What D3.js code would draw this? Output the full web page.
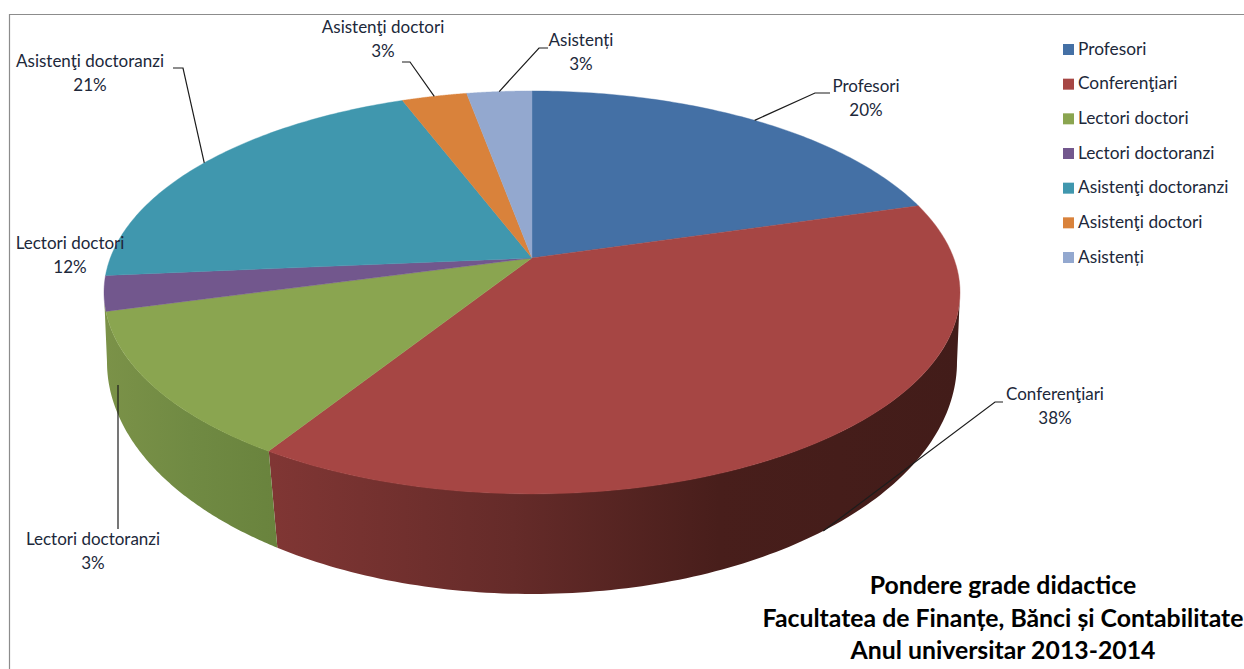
<!DOCTYPE html>
<html>
<head>
<meta charset="utf-8">
<script src="https://cdn.jsdelivr.net/npm/d3@7"></script>
<style>
  html, body { margin: 0; padding: 0; background: #fff; overflow: hidden; }
  text { font-family: Lato, "Open Sans", sans-serif; fill: #20283a; }
</style>
</head>
<body>
<div id="chart"></div>
<script>
const categories = ['Profesori', 'Conferenţiari', 'Lectori doctori', 'Lectori doctoranzi', 'Asistenţi doctoranzi', 'Asistenţi doctori', 'Asistenți'];
const shares = [20.49, 38.49, 11.82, 2.8, 20.6, 2.9, 2.9]; // read from the slice edges, labels are rounded
const colors = ['#4470A5', '#A64644', '#8AA550', '#72578D', '#4097AE', '#D9823B', '#93A8CF'];
const titleLines = ['Pondere grade didactice', 'Facultatea de Finanțe, Bănci și Contabilitate', 'Anul universitar 2013-2014'];

// label centre and elbow of the leader line, per category
const labelPos = [[866, 86], [1055, 394], [70, 243], [93, 539], [90, 61], [383, 27], [581, 40]];
const elbows = [[[830, 93], [815, 93]], [[1003, 402], [995, 402]], null, [[118, 529]], [[173, 68], [183, 68]], [[402, 62], [410, 62]], [[548, 48], [539, 48]]];

const width = 1244, height = 669;
const svg = d3.select('#chart').append('svg').attr('width', width).attr('height', height).style('display', 'block');

// frame, only top and left are inside the crop
svg.append('path').attr('d', `M9.5,${height} V14.5 H${width}`).attr('fill', 'none').attr('stroke', '#8c8c8c').attr('stroke-width', 1.2);

// pie lid seen in perspective: apex sits above the ellipse centre
const apex = { x: 532, y: 258 };
const persp = -0.171, lidR = 421.7, lidS = 195.6;
const lid = { x: 532, y: 292.5, rx: 428, ry: 201 };
const base = { x: 532, y: 362, rx: 425, ry: 232 };

const project = a => {
  const u = Math.sin(a), v = -Math.cos(a), w = 1 + persp * v;
  return [apex.x + lidR * u / w, apex.y + lidS * v / w];
};
const onEllipse = (e, phi) => [e.x + e.rx * Math.cos(phi), e.y + e.ry * Math.sin(phi)];
const phiOf = a => {
  const [x, y] = project(a);
  return Math.atan2((y - lid.y) / lid.ry, (x - lid.x) / lid.rx);
};

const arcs = d3.pie().sort(null).value(d => d)(shares);
const line = d3.line();

// wall gradients
const defs = svg.append('defs');
const gradient = (id, x1, x2, stops) => {
  const g = defs.append('linearGradient').attr('id', id).attr('gradientUnits', 'userSpaceOnUse')
    .attr('x1', x1).attr('x2', x2).attr('y1', 0).attr('y2', 0);
  stops.forEach(s => g.append('stop').attr('offset', s[0]).attr('stop-color', s[1]));
};
gradient('wallRed', 272, 960, [[0, '#803634'], [0.35, '#652B29'], [0.65, '#481E1B'], [1, '#421C19']]);
gradient('wallGreen', 104, 278, [[0, '#7B9248'], [0.5, '#708A43'], [1, '#69833D']]);

// only the two front slices show a wall, the seam leans a little towards the base centre
const seam = phiOf(arcs[1].endAngle);
const seamBase = seam - 0.02;
const wall = (from, to, baseFrom, baseTo, fill) => {
  const steps = d3.range(0, 121).map(i => i / 120);
  const pts = steps.map(t => onEllipse(lid, from + (to - from) * t))
    .concat(steps.slice().reverse().map(t => onEllipse(base, baseFrom + (baseTo - baseFrom) * t)));
  svg.append('path').attr('d', line(pts) + 'Z').attr('fill', `url(#${fill})`);
};
wall(0, seam, 0, seamBase, 'wallRed');
wall(seam, Math.PI, seamBase, Math.PI, 'wallGreen');

// lid
svg.append('g').selectAll('path').data(arcs).join('path')
  .attr('d', d => {
    const n = 90;
    const pts = d3.range(0, n + 1).map(i => project(d.startAngle + (d.endAngle - d.startAngle) * i / n));
    return line([[apex.x, apex.y], ...pts]) + 'Z';
  })
  .attr('fill', (d, i) => colors[i])
  .attr('stroke', (d, i) => colors[i])
  .attr('stroke-width', 0.4);

// leader lines: they end at the middle of the slice edge
const anchor = (d, i) => {
  const mid = (d.startAngle + d.endAngle) / 2;
  if (i === 1) return onEllipse(base, phiOf(mid));
  if (i === 3) return [118, 385];
  return project(mid);
};
svg.append('g').selectAll('path').data(arcs.filter((d, i) => elbows[i])).join('path')
  .attr('d', d => line([...elbows[d.index], anchor(d, d.index)]))
  .attr('fill', 'none')
  .attr('stroke', '#1c1c1c')
  .attr('stroke-width', 1.2);

// data labels
const labels = svg.append('g').selectAll('g').data(arcs).join('g')
  .attr('transform', (d, i) => `translate(${labelPos[i][0]},${labelPos[i][1]})`)
  .attr('text-anchor', 'middle')
  .style('font-size', '17px');
labels.append('text').attr('dy', 6).text((d, i) => categories[i]);
labels.append('text').attr('dy', 30).text(d => `${Math.round(d.value)}%`);

// legend
const legendY = d3.scalePoint().domain(categories).range([49.5, 257.5]);
const legend = svg.append('g').selectAll('g').data(categories).join('g')
  .attr('transform', d => `translate(1063,${legendY(d)})`);
legend.append('rect').attr('y', -5.5).attr('width', 11).attr('height', 11).attr('fill', (d, i) => colors[i]);
legend.append('text').attr('x', 15).attr('y', 5).style('font-size', '17.3px').text(d => d);

// title
svg.append('g').selectAll('text').data(titleLines).join('text')
  .attr('x', 1003)
  .attr('y', (d, i) => 594 + i * 32.5)
  .attr('text-anchor', 'middle')
  .style('font-size', '24.8px')
  .style('font-weight', 700)
  .style('fill', '#000')
  .text(d => d);
</script>
</body>
</html>
